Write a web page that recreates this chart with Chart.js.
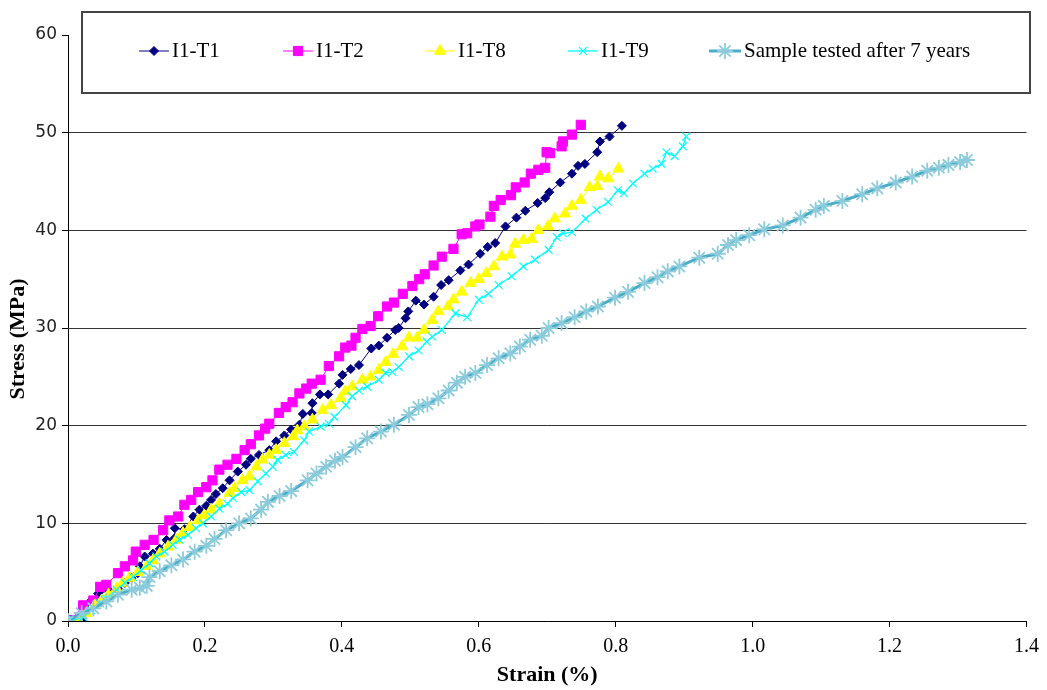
<!DOCTYPE html>
<html>
<head>
<meta charset="utf-8">
<title>Stress vs strain</title>
<script src="https://cdn.jsdelivr.net/npm/chart.js@4.4.1/dist/chart.umd.min.js"></script>
<style>
  body { margin: 0; background: #fff; }
  #wrap { width: 1047px; height: 690px; }
</style>
</head>
<body>
<div id="wrap"><canvas id="stressChart" width="1047" height="690"></canvas></div>
<script>
// Series: strain (%) and stress (MPa)
const t1Strain = [0, 0.020, 0.034, 0.044, 0.060, 0.073, 0.083, 0.093, 0.102, 0.105, 0.112, 0.124, 0.134, 0.144, 0.156, 0.156, 0.170, 0.183, 0.192, 0.202, 0.209, 0.216, 0.226, 0.236, 0.248, 0.260, 0.267, 0.279, 0.294, 0.304, 0.316, 0.326, 0.338, 0.343, 0.356, 0.357, 0.368, 0.380, 0.396, 0.401, 0.413, 0.425, 0.443, 0.454, 0.466, 0.478, 0.483, 0.493, 0.497, 0.508, 0.520, 0.534, 0.545, 0.556, 0.573, 0.585, 0.602, 0.613, 0.624, 0.639, 0.655, 0.668, 0.686, 0.697, 0.703, 0.719, 0.736, 0.745, 0.755, 0.773, 0.777, 0.791, 0.809];
const t1Stress = [0, 0.1, 2.1, 2.8, 3.1, 3.3, 3.9, 4.4, 4.9, 5.6, 6.6, 6.9, 7.4, 8.3, 8.5, 9.5, 9.4, 10.7, 11.4, 11.8, 12.4, 13.0, 13.6, 14.4, 15.3, 16.0, 16.6, 17.0, 17.5, 18.4, 19.0, 19.6, 20.1, 21.2, 21.3, 22.3, 23.2, 23.2, 24.3, 25.2, 25.8, 26.2, 27.9, 28.2, 29.0, 29.8, 30.0, 31.0, 31.7, 32.8, 32.4, 33.2, 34.4, 34.9, 35.9, 36.5, 37.6, 38.3, 38.7, 40.4, 41.3, 42.0, 42.8, 43.3, 43.9, 44.9, 45.8, 46.6, 46.8, 48.0, 49.1, 49.6, 50.7];

const t2Strain = [0, 0.005, 0.022, 0.037, 0.047, 0.056, 0.073, 0.083, 0.095, 0.099, 0.112, 0.125, 0.139, 0.148, 0.161, 0.170, 0.180, 0.190, 0.202, 0.211, 0.221, 0.233, 0.246, 0.258, 0.267, 0.279, 0.288, 0.294, 0.308, 0.318, 0.328, 0.338, 0.348, 0.356, 0.369, 0.381, 0.396, 0.405, 0.414, 0.420, 0.430, 0.442, 0.453, 0.466, 0.476, 0.489, 0.503, 0.513, 0.521, 0.534, 0.546, 0.563, 0.575, 0.583, 0.595, 0.601, 0.617, 0.622, 0.632, 0.647, 0.654, 0.667, 0.676, 0.687, 0.697, 0.699, 0.704, 0.721, 0.723, 0.736, 0.749];
const t2Stress = [0, 0.1, 1.6, 2.1, 3.5, 3.7, 4.9, 5.6, 6.2, 7.1, 7.8, 8.3, 9.3, 10.3, 10.7, 11.9, 12.4, 13.2, 13.7, 14.4, 15.5, 16.0, 16.6, 17.5, 18.1, 19.0, 19.7, 20.2, 21.3, 21.9, 22.4, 23.3, 23.8, 24.3, 24.7, 26.1, 27.1, 28.0, 28.2, 29.0, 29.9, 30.2, 31.2, 32.2, 32.6, 33.5, 34.3, 35.0, 35.5, 36.4, 37.3, 38.1, 39.6, 39.7, 40.4, 40.6, 41.4, 42.5, 43.1, 43.6, 44.4, 44.9, 45.8, 46.2, 46.4, 48.0, 47.9, 48.6, 49.1, 49.8, 50.8];

const t8Strain = [0, 0.015, 0.027, 0.039, 0.049, 0.059, 0.071, 0.080, 0.090, 0.102, 0.115, 0.124, 0.134, 0.146, 0.158, 0.168, 0.178, 0.190, 0.199, 0.209, 0.221, 0.236, 0.243, 0.255, 0.265, 0.275, 0.284, 0.294, 0.304, 0.316, 0.329, 0.335, 0.345, 0.357, 0.372, 0.384, 0.398, 0.405, 0.415, 0.430, 0.442, 0.454, 0.464, 0.475, 0.488, 0.498, 0.510, 0.520, 0.532, 0.541, 0.555, 0.563, 0.575, 0.588, 0.600, 0.611, 0.622, 0.634, 0.646, 0.653, 0.665, 0.677, 0.687, 0.701, 0.711, 0.726, 0.736, 0.749, 0.762, 0.773, 0.777, 0.789, 0.804];
const t8Stress = [0, 0.1, 0.8, 1.6, 2.1, 2.7, 3.3, 3.9, 4.4, 5.0, 5.6, 6.2, 6.9, 7.6, 8.3, 9.0, 9.6, 10.3, 10.8, 11.4, 12.0, 13.1, 13.6, 14.4, 14.8, 15.8, 16.5, 17.0, 17.5, 18.2, 18.9, 19.5, 19.9, 20.6, 21.6, 22.1, 22.8, 23.5, 24.0, 24.7, 25.0, 25.7, 26.5, 27.3, 28.1, 29.0, 29.0, 29.8, 30.8, 31.7, 32.2, 32.9, 33.7, 34.6, 35.0, 35.6, 36.3, 37.3, 37.5, 38.6, 39.0, 39.1, 40.0, 40.4, 41.2, 41.7, 42.5, 43.1, 44.4, 44.5, 45.5, 45.3, 46.3];

const t9Strain = [0, 0.008, 0.022, 0.034, 0.047, 0.056, 0.071, 0.083, 0.095, 0.107, 0.119, 0.129, 0.141, 0.153, 0.163, 0.175, 0.187, 0.197, 0.209, 0.221, 0.233, 0.241, 0.253, 0.265, 0.277, 0.289, 0.299, 0.306, 0.318, 0.330, 0.345, 0.352, 0.369, 0.381, 0.389, 0.406, 0.415, 0.425, 0.437, 0.454, 0.464, 0.474, 0.483, 0.498, 0.512, 0.524, 0.532, 0.546, 0.566, 0.583, 0.600, 0.614, 0.629, 0.648, 0.665, 0.682, 0.702, 0.714, 0.723, 0.736, 0.756, 0.772, 0.789, 0.803, 0.812, 0.825, 0.842, 0.854, 0.867, 0.874, 0.886, 0.898, 0.903];
const t9Stress = [0, 0.1, 0.4, 1.1, 1.8, 2.3, 3.2, 3.9, 4.5, 5.2, 5.9, 6.6, 7.1, 7.8, 8.3, 8.8, 9.5, 10.0, 10.7, 11.5, 12.0, 12.6, 13.2, 13.4, 14.3, 15.1, 15.8, 16.5, 17.0, 17.3, 18.5, 19.4, 19.9, 20.2, 20.9, 22.1, 23.0, 23.6, 24.0, 24.7, 25.4, 25.5, 26.0, 27.1, 27.7, 28.6, 29.1, 29.8, 31.5, 31.1, 32.9, 33.5, 34.4, 35.3, 36.3, 37.0, 38.0, 39.3, 39.7, 39.8, 41.2, 42.1, 42.9, 44.1, 43.8, 44.8, 45.8, 46.3, 46.8, 48.0, 47.6, 48.6, 49.6];

const oldStrain = [0, 0.020, 0.037, 0.056, 0.073, 0.093, 0.105, 0.115, 0.119, 0.134, 0.151, 0.168, 0.185, 0.202, 0.214, 0.231, 0.250, 0.267, 0.282, 0.292, 0.309, 0.326, 0.350, 0.363, 0.377, 0.390, 0.401, 0.420, 0.437, 0.457, 0.476, 0.498, 0.512, 0.525, 0.541, 0.556, 0.568, 0.580, 0.595, 0.612, 0.629, 0.646, 0.660, 0.675, 0.692, 0.702, 0.721, 0.740, 0.757, 0.774, 0.799, 0.818, 0.842, 0.861, 0.876, 0.893, 0.922, 0.949, 0.964, 0.976, 0.995, 1.017, 1.044, 1.070, 1.092, 1.104, 1.131, 1.160, 1.182, 1.209, 1.233, 1.255, 1.272, 1.286, 1.303, 1.313];
const oldStress = [0, 0.8, 1.3, 2.0, 2.7, 3.2, 3.4, 3.6, 4.5, 5.1, 5.7, 6.3, 7.1, 7.7, 8.4, 9.3, 10.0, 10.5, 11.4, 12.2, 12.8, 13.3, 14.4, 15.1, 15.8, 16.4, 16.8, 17.8, 18.7, 19.4, 20.1, 21.1, 21.9, 22.2, 22.8, 23.6, 24.4, 25.0, 25.4, 26.2, 26.9, 27.4, 28.1, 28.8, 29.2, 30.0, 30.5, 31.1, 31.7, 32.2, 33.1, 33.7, 34.6, 35.2, 35.8, 36.3, 37.2, 37.6, 38.5, 39.0, 39.5, 40.1, 40.5, 41.3, 42.1, 42.5, 43.0, 43.7, 44.3, 44.9, 45.5, 46.1, 46.4, 46.7, 47.0, 47.2];

const seriesNames = ['I1-T1', 'I1-T2', 'I1-T8', 'I1-T9', 'Sample tested after 7 years'];
const xTicks = [0, 0.2, 0.4, 0.6, 0.8, 1.0, 1.2, 1.4];
const yTicks = [0, 10, 20, 30, 40, 50, 60];

function toPoints(xs, ys) {
    return xs.map((x, i) => ({ x: x, y: ys[i] }));
}

const serif = "'Liberation Serif', 'Times New Roman', serif";

const datasets = [
    { label: seriesNames[0], data: toPoints(t1Strain, t1Stress), borderColor: '#000080', backgroundColor: '#000080',
      borderWidth: 1, pointStyle: 'rectRot', pointRadius: 4.5, pointBorderWidth: 1, order: 4 },
    { label: seriesNames[1], data: toPoints(t2Strain, t2Stress), borderColor: '#ff00ff', backgroundColor: '#ff00ff',
      borderWidth: 1, pointStyle: 'rect', pointRadius: 6.5, pointBorderWidth: 1, order: 3 },
    { label: seriesNames[2], data: toPoints(t8Strain, t8Stress), borderColor: '#ffff00', backgroundColor: '#ffff00',
      borderWidth: 1, pointStyle: 'triangle', pointRadius: 6.5, pointBorderWidth: 1, order: 2 },
    { label: seriesNames[3], data: toPoints(t9Strain, t9Stress), borderColor: '#00ffff', backgroundColor: '#00ffff',
      borderWidth: 1.3, pointStyle: 'crossRot', pointRadius: 5.5, pointBorderWidth: 1.2, order: 1 },
    { label: seriesNames[4], data: toPoints(oldStrain, oldStress), borderColor: '#4bacc6', backgroundColor: '#4bacc6',
      borderWidth: 3, pointStyle: 'star', pointRadius: 8, pointBorderWidth: 1.8, pointBorderColor: '#8ccbdc', order: 0 }
];

// Legend box drawn over the top of the plot, like the original
const legendLeft = [139, 283, 425, 568, 709];
const boxLegend = {
    id: 'boxLegend',
    afterDraw(chart) {
        const ctx = chart.ctx;
        ctx.save();
        ctx.fillStyle = '#fff';
        ctx.fillRect(82, 12, 948, 81);
        ctx.strokeStyle = '#444';
        ctx.lineWidth = 2;
        ctx.strokeRect(82, 12, 948, 81);
        const y = 51;
        chart.data.datasets.forEach((ds, i) => {
            const x0 = legendLeft[i];
            const w = i === 4 ? 32 : 30;
            ctx.strokeStyle = ds.borderColor;
            ctx.lineWidth = ds.borderWidth;
            ctx.beginPath();
            ctx.moveTo(x0, y);
            ctx.lineTo(x0 + w, y);
            ctx.stroke();
            ctx.fillStyle = ds.backgroundColor;
            ctx.strokeStyle = ds.pointBorderColor || ds.borderColor;
            ctx.lineWidth = ds.pointBorderWidth;
            Chart.helpers.drawPoint(ctx, { pointStyle: ds.pointStyle, radius: ds.pointRadius, rotation: 0, borderWidth: ds.pointBorderWidth }, x0 + w / 2, y);
            ctx.fillStyle = '#000';
            ctx.font = '21px ' + serif;
            ctx.textBaseline = 'middle';
            ctx.fillText(ds.label, x0 + w + 3, y);
        });
        ctx.restore();
    }
};

const ctx = document.getElementById('stressChart').getContext('2d');
const stressChart = new Chart(ctx, {
    type: 'scatter',
    data: { datasets: datasets.map(ds => Object.assign({ showLine: true, tension: 0 }, ds)) },
    options: {
        responsive: false,
        animation: false,
        layout: { autoPadding: false, padding: { left: 0, right: 17, top: 35, bottom: 0 } },
        plugins: {
            legend: { display: false },
            tooltip: { enabled: false }
        },
        scales: {
            x: {
                type: 'linear',
                min: xTicks[0],
                max: xTicks[xTicks.length - 1],
                afterBuildTicks: scale => { scale.ticks = xTicks.map(v => ({ value: v })); },
                afterFit: scale => { scale.height = 69; },
                ticks: {
                    callback: v => v.toFixed(1),
                    font: { family: serif, size: 20 },
                    color: '#000',
                    padding: 8,
                    maxRotation: 0
                },
                grid: { drawOnChartArea: false, tickLength: 6, tickColor: '#000' },
                border: { color: '#000', width: 1 },
                title: {
                    display: true,
                    text: 'Strain (%)',
                    font: { family: serif, size: 22, weight: 'bold' },
                    color: '#000',
                    padding: { top: 0, bottom: 1 }
                }
            },
            y: {
                min: yTicks[0],
                max: yTicks[yTicks.length - 1],
                afterBuildTicks: scale => { scale.ticks = yTicks.map(v => ({ value: v })); },
                afterFit: scale => { scale.width = 68; },
                ticks: {
                    font: { family: "'DejaVu Sans', sans-serif", size: 17 },
                    color: '#222',
                    padding: 5
                },
                grid: {
                    color: c => (c.tick && c.tick.value === 60) ? 'rgba(0,0,0,0)' : '#333',
                    tickColor: '#000',
                    tickLength: 6,
                    lineWidth: 1
                },
                border: { color: '#000', width: 1 },
                title: {
                    display: true,
                    text: 'Stress (MPa)    ',
                    font: { family: serif, size: 22, weight: 'bold' },
                    color: '#000',
                    padding: { top: 5, bottom: 0 }
                }
            }
        }
    },
    plugins: [boxLegend]
});
</script>
</body>
</html>
